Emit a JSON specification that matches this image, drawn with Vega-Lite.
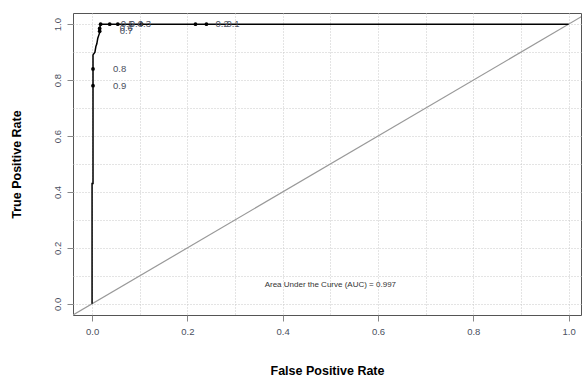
{
  "$schema": "https://vega.github.io/schema/vega-lite/v6.json",
  "autosize": "none",
  "width": 508,
  "height": 302,
  "padding": {"left": 73, "top": 13, "right": 1, "bottom": 63},
  "background": "white",
  "config": {
    "view": {"stroke": "#555555", "strokeWidth": 1},
    "font": "Liberation Sans"
  },
  "datasets": {
    "roc": [
      {"i": 0, "fpr": 0.0, "tpr": 0.0},
      {"i": 1, "fpr": 0.0, "tpr": 0.43},
      {"i": 2, "fpr": 0.002, "tpr": 0.43},
      {"i": 3, "fpr": 0.002, "tpr": 0.89},
      {"i": 4, "fpr": 0.006, "tpr": 0.9},
      {"i": 5, "fpr": 0.008, "tpr": 0.92},
      {"i": 6, "fpr": 0.01, "tpr": 0.93},
      {"i": 7, "fpr": 0.012, "tpr": 0.95},
      {"i": 8, "fpr": 0.014, "tpr": 0.96},
      {"i": 9, "fpr": 0.016, "tpr": 0.97},
      {"i": 10, "fpr": 0.016, "tpr": 0.985},
      {"i": 11, "fpr": 0.018, "tpr": 1.0},
      {"i": 12, "fpr": 1.0, "tpr": 1.0}
    ],
    "cuts": [
      {"fpr": 0.002, "tpr": 0.78, "label": "0.9"},
      {"fpr": 0.002, "tpr": 0.84, "label": "0.8"},
      {"fpr": 0.016, "tpr": 0.975, "label": "0.7"},
      {"fpr": 0.016, "tpr": 0.985, "label": "0.6"},
      {"fpr": 0.018, "tpr": 1.0, "label": "0.5"},
      {"fpr": 0.037, "tpr": 1.0, "label": "0.4"},
      {"fpr": 0.054, "tpr": 1.0, "label": "0.3"},
      {"fpr": 0.104, "tpr": 1.0, "label": ""},
      {"fpr": 0.217, "tpr": 1.0, "label": "0.2"},
      {"fpr": 0.24, "tpr": 1.0, "label": "0.1"}
    ],
    "diag": [
      {"fpr": -0.04, "tpr": -0.04},
      {"fpr": 1.04, "tpr": 1.04}
    ],
    "note": [
      {"fpr": 0.5, "tpr": 0.066, "text": "Area Under the Curve (AUC) = 0.997"}
    ]
  },
  "encoding": {
    "x": {
      "field": "fpr", "type": "quantitative",
      "scale": {"domain": [-0.04, 1.026], "nice": false, "zero": false},
      "axis": {
        "title": "False Positive Rate",
        "values": [0, 0.1, 0.2, 0.3, 0.4, 0.5, 0.6, 0.7, 0.8, 0.9, 1.0],
        "labelExpr": "round(datum.value*10)%2==0 ? format(datum.value,'.1f') : ''",
        "grid": true, "gridDash": [1, 2], "gridColor": "#c8c8c8", "gridWidth": 1,
        "domain": false,
        "tickSize": 6, "tickColor": "#888888",
        "tickOpacity": {"condition": {"test": "round(datum.value*10)%2==0", "value": 1}, "value": 0},
        "labelFontSize": 9.5, "labelColor": "#4a5060", "labelPadding": 5,
        "titleFont": "Liberation Sans", "titleFontSize": 12.5, "titleFontWeight": "bold", "titleColor": "#000000",
        "titlePadding": 29
      }
    },
    "y": {
      "field": "tpr", "type": "quantitative",
      "scale": {"domain": [-0.04, 1.04], "nice": false, "zero": false},
      "axis": {
        "title": "True Positive Rate",
        "values": [0, 0.1, 0.2, 0.3, 0.4, 0.5, 0.6, 0.7, 0.8, 0.9, 1.0],
        "labelExpr": "round(datum.value*10)%2==0 ? format(datum.value,'.1f') : ''",
        "grid": true, "gridDash": [1, 2], "gridColor": "#c8c8c8", "gridWidth": 1,
        "domain": false,
        "tickSize": 6, "tickColor": "#888888",
        "tickOpacity": {"condition": {"test": "round(datum.value*10)%2==0", "value": 1}, "value": 0},
        "labelAngle": -90, "labelAlign": "center", "labelBaseline": "bottom",
        "labelFontSize": 9.5, "labelColor": "#4a5060", "labelPadding": 5,
        "titleFont": "Liberation Sans", "titleFontSize": 12.5, "titleFontWeight": "bold", "titleColor": "#000000",
        "titlePadding": 29
      }
    }
  },
  "layer": [
    {
      "data": {"name": "diag"},
      "mark": {"type": "line", "color": "#999999", "strokeWidth": 1.2, "clip": true}
    },
    {
      "data": {"name": "roc"},
      "mark": {"type": "line", "color": "#000000", "strokeWidth": 1.5},
      "encoding": {"order": {"field": "i", "type": "quantitative"}}
    },
    {
      "data": {"name": "cuts"},
      "mark": {"type": "circle", "color": "#000000", "size": 14, "opacity": 1}
    },
    {
      "data": {"name": "cuts"},
      "mark": {"type": "text", "align": "left", "baseline": "middle", "dx": 20, "fontSize": 9.5, "color": "#4a5060"},
      "encoding": {"text": {"field": "label"}}
    },
    {
      "data": {"name": "note"},
      "mark": {"type": "text", "align": "center", "baseline": "middle", "fontSize": 8, "color": "#333333"},
      "encoding": {"text": {"field": "text"}}
    }
  ]
}
